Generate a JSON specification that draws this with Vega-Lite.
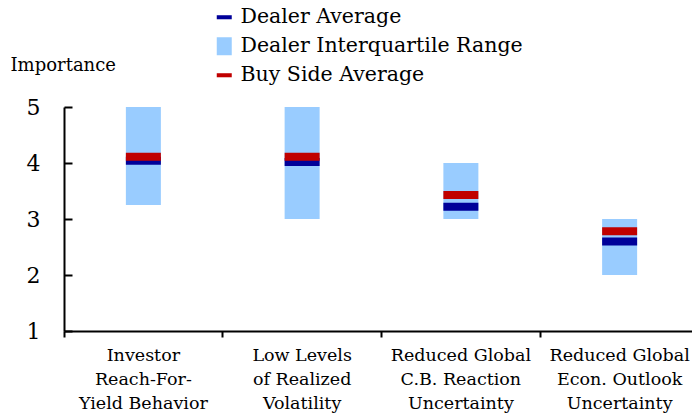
{
  "$schema": "https://vega.github.io/schema/vega-lite/v6.json",
  "autosize": "none",
  "width": 628,
  "height": 224,
  "padding": {"left": 64, "top": 107, "right": 0, "bottom": 86},
  "background": "white",
  "config": {
    "view": {"stroke": null},
    "font": "DejaVu Serif",
    "axis": {"grid": false, "domainColor": "black", "tickColor": "black", "labelColor": "black", "titleColor": "black", "domainWidth": 2, "tickWidth": 2}
  },
  "data": {
    "values": [
      {"category": "Investor\nReach-For-\nYield Behavior", "q1": 3.25, "q3": 5.0, "dealer": 4.04, "buy": 4.11},
      {"category": "Low Levels\nof Realized\nVolatility", "q1": 3.0, "q3": 5.0, "dealer": 4.02, "buy": 4.11},
      {"category": "Reduced Global\nC.B. Reaction\nUncertainty", "q1": 3.0, "q3": 4.0, "dealer": 3.22, "buy": 3.43},
      {"category": "Reduced Global\nEcon. Outlook\nUncertainty", "q1": 2.0, "q3": 3.0, "dealer": 2.6, "buy": 2.78}
    ]
  },
  "encoding": {
    "x": {
      "field": "category", "type": "nominal", "sort": null,
      "scale": {"range": [0, 635], "paddingInner": 0, "paddingOuter": 0},
      "axis": {"title": null, "labelAngle": 0, "labelExpr": "split(datum.label, '\\n')", "labelFontSize": 17.5, "labelLineHeight": 24, "labelBaseline": "top", "labelPadding": 9, "tickSize": 6, "bandPosition": 0, "labelBound": false, "labelOverlap": false}
    }
  },
  "layer": [
    {
      "mark": {"type": "bar", "size": 35},
      "encoding": {
        "y": {"field": "q1", "type": "quantitative", "scale": {"domain": [1, 5], "nice": false, "zero": false},
          "axis": {"title": "Importance", "titleAngle": 0, "titleAlign": "left", "titleBaseline": "alphabetic", "titleX": -54, "titleY": -37, "titleFontSize": 18, "titleFontWeight": "normal", "values": [1, 2, 3, 4, 5], "format": "d", "labelFontSize": 22, "tickSize": -8, "labelPadding": 32, "labelBaseline": "middle"}},
        "y2": {"field": "q3"},
        "color": {"datum": "Dealer Interquartile Range", "type": "nominal",
          "scale": {"domain": ["Dealer Average", "Dealer Interquartile Range", "Buy Side Average"], "range": ["#000099", "#99CCFF", "#C00000"]},
          "legend": {"title": null, "orient": "none", "legendX": 150, "legendY": -100, "labelFontSize": 20.5, "labelLimit": 400, "labelColor": "black", "rowPadding": 8, "symbolSize": 225, "symbolOpacity": 1, "symbolStrokeWidth": 0, "labelOffset": 6, "padding": 0,
            "encode": {"symbols": {"update": {"shape": {"signal": "datum.value === 'Dealer Interquartile Range' ? 'M-1,-1.2H1V1.2H-1Z' : 'M-1,-0.27H1V0.27H-1Z'"}}}}}
        }
      }
    },
    {
      "mark": {"type": "tick", "thickness": 8, "size": 35, "opacity": 1},
      "encoding": {
        "y": {"field": "dealer", "type": "quantitative"},
        "color": {"datum": "Dealer Average", "type": "nominal"}
      }
    },
    {
      "mark": {"type": "tick", "thickness": 8, "size": 35, "opacity": 1},
      "encoding": {
        "y": {"field": "buy", "type": "quantitative"},
        "color": {"datum": "Buy Side Average", "type": "nominal"}
      }
    }
  ]
}
